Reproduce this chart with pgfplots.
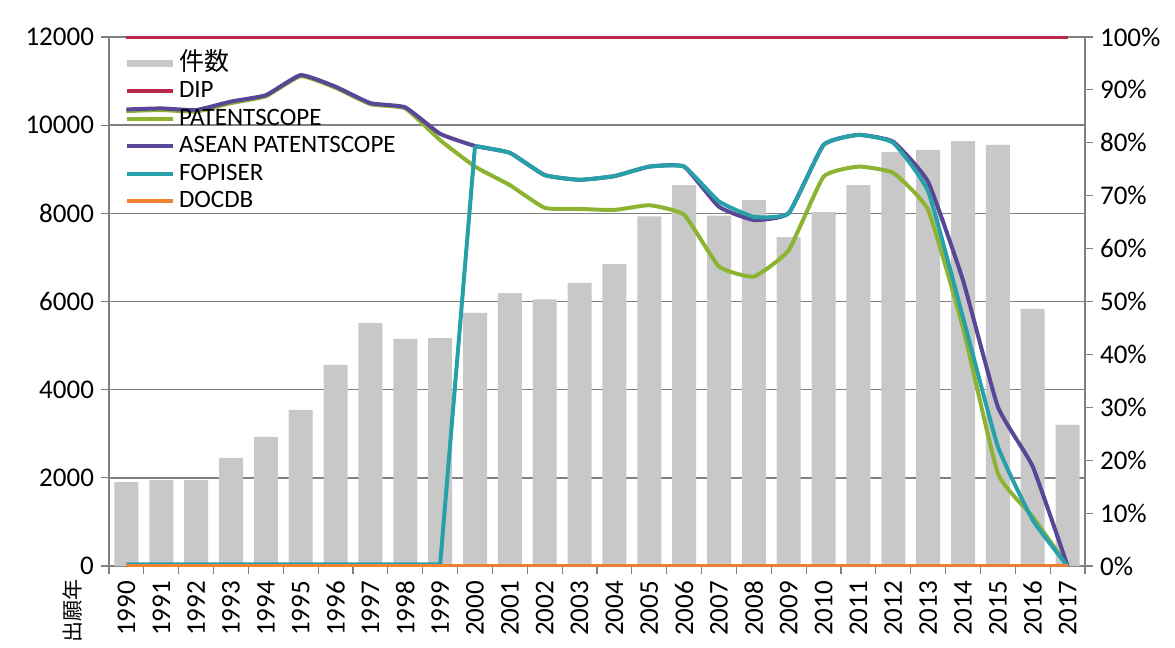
\documentclass[border=0pt]{standalone}
\usepackage{pgfplots}
\pgfplotsset{compat=1.18}
\usepackage{fontspec}
\setmainfont{Carlito}
\newfontfamily\cjk{Noto Sans CJK JP}

\definecolor{bargray}{RGB}{200,200,200}
\definecolor{axgray}{RGB}{128,128,128}
\definecolor{dip}{RGB}{185,40,75}
\definecolor{pscope}{RGB}{140,180,50}
\definecolor{asean}{RGB}{90,70,150}
\definecolor{fopiser}{RGB}{40,160,170}
\definecolor{docdb}{RGB}{240,130,50}

\pgfplotsset{
  common/.style={
    width=488pt, height=264.5pt, scale only axis,
    xmin=-0.5, xmax=27.5,
    tick align=outside,
    major tick length=4pt,
    tick style={axgray, line width=0.6pt},
    axis line style={axgray, line width=0.8pt},
    tick label style={font=\fontsize{13.5}{16}\selectfont, black},
    /pgf/number format/assume math mode=true,
  },
}

\begin{document}
\begin{tikzpicture}
  % bars: 件数 (left axis)
  \begin{axis}[
      common, name=ax1,
      ymin=0, ymax=12000,
      ytick={0,2000,...,12000},
      scaled y ticks=false,
      yticklabel style={/pgf/number format/1000 sep={}},
      ymajorgrids, grid style={axgray, line width=0.7pt},
      axis y line*=left, axis x line*=bottom,
      xtick={-0.5,0.5,...,27.5}, xticklabels={},
      extra x ticks={0,...,27},
      extra x tick labels={1990,1991,1992,1993,1994,1995,1996,1997,1998,1999,2000,2001,2002,2003,2004,2005,2006,2007,2008,2009,2010,2011,2012,2013,2014,2015,2016,2017},
      extra x tick style={tick style={draw=none}, tick label style={rotate=90, anchor=east}},
    ]
    \addplot[ybar, bar width=12pt, fill=bargray, draw=none] coordinates {
      (0,1900) (1,1950) (2,1950) (3,2450) (4,2930) (5,3540) (6,4560)
      (7,5510) (8,5150) (9,5170) (10,5740) (11,6190) (12,6050) (13,6420)
      (14,6850) (15,7930) (16,8640) (17,7950) (18,8300) (19,7460) (20,8030)
      (21,8640) (22,9390) (23,9440) (24,9640) (25,9550) (26,5830) (27,3200)
    };
  \end{axis}

  % lines: shares (right axis)
  \begin{axis}[
      common,
      ymin=0, ymax=100,
      ytick={0,10,...,100},
      yticklabel={\pgfmathprintnumber{\tick}\%},
      axis y line*=right, axis x line=none,
      legend cell align=left,
      legend image code/.code={\draw[#1] (0pt,0pt) -- (23pt,0pt);},
      legend style={at={(0.014,0.976)}, anchor=north west, draw=none, fill=none,
        font=\fontsize{12.5}{13}\selectfont, row sep=0pt, inner sep=0pt,
        nodes={inner sep=1.5pt, text height=8.5pt, text depth=2.25pt}},
      every axis plot/.append style={line width=2pt},
    ]
    \addlegendimage{bargray, line width=3.5pt}
    \addlegendentry{{\cjk 件数}}
    \addplot[dip] coordinates {
      (0,100) (1,100) (2,100) (3,100) (4,100) (5,100) (6,100) (7,100)
      (8,100) (9,100) (10,100) (11,100) (12,100) (13,100) (14,100) (15,100)
      (16,100) (17,100) (18,100) (19,100) (20,100) (21,100) (22,100) (23,100)
      (24,100) (25,100) (26,100) (27,100)
    };
    \addlegendentry{DIP}
    \addplot[pscope, smooth, tension=0.25] coordinates {
      (0,86.0) (1,86.2) (2,85.9) (3,87.5) (4,88.8) (5,92.6) (6,90.4)
      (7,87.3) (8,86.5) (9,80.5) (10,75.5) (11,72.0) (12,67.7) (13,67.5)
      (14,67.3) (15,68.2) (16,66.4) (17,56.6) (18,54.7) (19,59.7) (20,73.6)
      (21,75.5) (22,74.3) (23,67.3) (24,45.0) (25,17.5) (26,9.3) (27,0)
    };
    \addlegendentry{PATENTSCOPE}
    \addplot[asean, smooth, tension=0.25] coordinates {
      (0,86.3) (1,86.5) (2,86.2) (3,87.8) (4,89.0) (5,92.8) (6,90.6)
      (7,87.5) (8,86.7) (9,81.7) (10,79.4) (11,78.1) (12,73.9) (13,73.0)
      (14,73.7) (15,75.5) (16,75.5) (17,67.9) (18,65.4) (19,66.7) (20,79.6)
      (21,81.5) (22,80.2) (23,72.6) (24,54.0) (25,30.1) (26,18.8) (27,0)
    };
    \addlegendentry{ASEAN PATENTSCOPE}
    \addplot[fopiser, forget plot] coordinates {
      (0,0.3) (1,0.3) (2,0.3) (3,0.3) (4,0.3) (5,0.3) (6,0.3) (7,0.3)
      (8,0.3) (9,0.3) (10,79.4)
    };
    \addplot[fopiser, smooth, tension=0.25] coordinates {
      (10,79.4) (11,78.1) (12,73.9) (13,73.0) (14,73.7)
      (15,75.5) (16,75.5) (17,68.9) (18,66.0) (19,66.7) (20,79.6) (21,81.5)
      (22,80.0) (23,70.8) (24,47.0) (25,22.6) (26,8.7) (27,0)
    };
    \addlegendentry{FOPISER}
    \addplot[docdb] coordinates {
      (0,0) (1,0) (2,0) (3,0) (4,0) (5,0) (6,0) (7,0) (8,0) (9,0) (10,0)
      (11,0) (12,0) (13,0) (14,0) (15,0) (16,0) (17,0) (18,0) (19,0) (20,0)
      (21,0) (22,0) (23,0) (24,0) (25,0) (26,0) (27,0)
    };
    \addlegendentry{DOCDB}
  \end{axis}

  \node[rotate=90, anchor=east, font=\cjk\fontsize{10.5}{12}\selectfont, inner sep=0pt]
    at ([shift={(-18.5pt,-6.5pt)}]ax1.south west) {出願年};

  \pgfresetboundingbox
  \path[use as bounding box] ([shift={(-54.5pt,-40.5pt)}]ax1.south west)
    rectangle ([shift={(45pt,18.5pt)}]ax1.north east);
\end{tikzpicture}
\end{document}
